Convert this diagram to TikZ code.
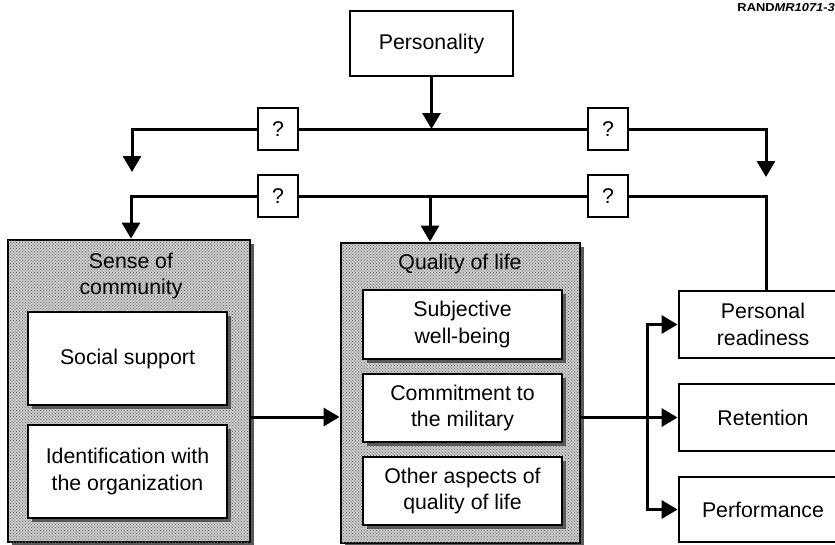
\documentclass[tikz,border=0pt]{standalone}
\usepackage{fontspec}
\usepackage{graphicx}
\setmainfont{Liberation Sans}
\usetikzlibrary{arrows.meta,shadows,patterns}
\definecolor{shade}{gray}{0.78}
\definecolor{shadowc}{gray}{0.35}
\begin{document}
\begin{tikzpicture}[x=1pt,y=-1pt,
  every node/.style={font=\fontsize{21.3}{26.5}\selectfont},
  box/.style={draw, line width=2.8pt, fill=white, align=center, inner sep=0pt},
  outerbox/.style={draw, line width=2.8pt, fill=shade, inner sep=0pt,
    postaction={pattern=crosshatch dots, pattern color=black!55}},
  qbox/.style={draw, line width=2.8pt, fill=white, minimum width=40pt, minimum height=42pt, inner sep=0pt},
  conn/.style={line width=3pt},
  arr/.style={line width=3pt, -{Triangle[width=18pt,length=16pt]}},
  shad/.style={drop shadow={shadow xshift=4pt, shadow yshift=-4pt, fill=shadowc, opacity=1}}
]
\useasboundingbox (0,0) rectangle (835,544);
\clip (0,0) rectangle (835,544);

% top
\node[box, minimum width=163pt, minimum height=65pt] (pers) at (431.5,43.5) {Personality};
\node[qbox] (q1) at (278,129) {?};
\node[qbox] (q2) at (608,129) {?};
\node[qbox] (q3) at (278,196) {?};
\node[qbox] (q4) at (608,196) {?};

% sense of community
\node[outerbox, shad, minimum width=242pt, minimum height=302pt] (sense) at (129,391) {};
\node[align=center, inner sep=0pt] (senset) at (131,276) {Sense of\\community};
\node[box, shad, minimum width=199pt, minimum height=93pt] (soc) at (127.5,358.5) {Social support};
\node[box, shad, minimum width=199pt, minimum height=93pt] (ident) at (127.5,471.5) {Identification with\\the organization};

% quality of life
\node[outerbox, shad, minimum width=239pt, minimum height=300pt] (qual) at (460.5,393) {};
\node[inner sep=0pt] (qualt) at (460,264) {Quality of life};
\node[box, shad, minimum width=199pt, minimum height=69pt] (subj) at (462.5,324.5) {Subjective\\well-being};
\node[box, shad, minimum width=199pt, minimum height=68pt] (comm) at (462.5,408) {Commitment to\\the military};
\node[box, shad, minimum width=199pt, minimum height=68pt] (other) at (462.5,491) {Other aspects of\\quality of life};

% outcomes
\node[box, minimum width=168pt, minimum height=67pt] (pr) at (763,324.5) {Personal\\readiness};
\node[box, minimum width=168pt, minimum height=67pt] (ret) at (763,417.5) {Retention};
\node[box, minimum width=168pt, minimum height=65pt] (perf) at (763,509.5) {Performance};

% label
\node[anchor=north east, inner sep=0pt, font=\fontsize{11.5}{13}\selectfont] (rand) at (835,3)
  {\scalebox{1.12}[1]{\textbf{RAND}\textbf{\textit{MR1071-3}}}};

% coordinates
\coordinate (r1l) at (132,129);
\coordinate (r1r) at (766,129);
\coordinate (d1l) at (132,172);
\coordinate (d1r) at (766,177);
\coordinate (r2l) at (131,196);
\coordinate (r2r) at (766,196);
\coordinate (m2) at (430,196);
\coordinate (h1) at (0,417);
\coordinate (br) at (647,417.5);

% row 1
\draw[arr] (pers) -- (pers.south |- r1l);
\draw[arr] (q1) -- (r1l) -- (d1l);
\draw[conn] (q1) -- (q2);
\draw[arr] (q2) -- (r1r) -- (d1r);

% row 2
\draw[arr] (q3) -- (r2l) -- (sense.north -| r2l);
\draw[conn] (q3) -- (q4);
\draw[conn] (q4) -- (r2r) -- (pr.north -| r2r);
\draw[arr] (m2) -- (qual.north -| m2);

% horizontal flow
\draw[arr] (sense.east |- h1) -- (qual.west |- h1);
\draw[arr] (qual.east |- ret.west) -- (ret.west);
\draw[arr] (br) |- (pr.west);
\draw[arr] (br) |- (perf.west);
\end{tikzpicture}
\end{document}
